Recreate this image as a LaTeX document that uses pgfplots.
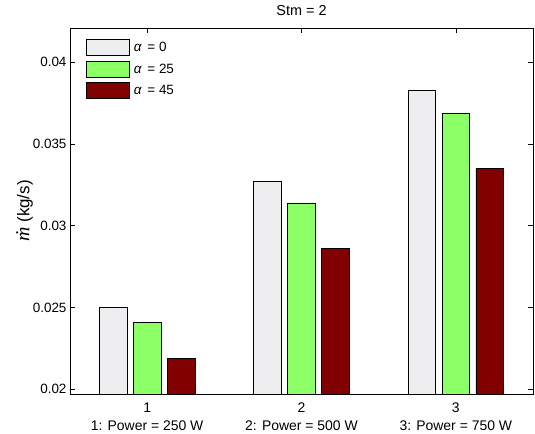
\documentclass[border=0pt]{standalone}
\usepackage{pgfplots}
\pgfplotsset{compat=1.18}
\usepackage{fontspec}
\setmainfont{Liberation Sans}
\newfontfamily\serifit{Liberation Serif}
\definecolor{barA}{RGB}{238,238,240}
\definecolor{barB}{RGB}{140,255,102}
\definecolor{barC}{RGB}{128,0,0}
\begin{document}
\begin{tikzpicture}
\begin{axis}[name=ax, at={(0,0)}, anchor=south west,
  scale only axis, width=463bp, height=366bp,
  xmin=0.5, xmax=3.5, ymin=0.0197, ymax=0.0421,
  scaled y ticks=false,
  xtick={1,2,3},
  xticklabels={{1\\1: Power = 250 W},{2\\2: Power = 500 W},{3\\3: Power = 750 W}},
  xticklabel style={align=center, font=\fontsize{14}{18}\selectfont, yshift=-5bp},
  ytick={0.02,0.025,0.03,0.035,0.04},
  yticklabels={0.02,0.025,0.03,0.035,0.04},
  yticklabel style={font=\fontsize{13.5}{15}\selectfont},
  /pgf/number format/assume math mode=true,
  tick align=inside, tick pos=both, xticklabel pos=left, yticklabel pos=left,
  major tick length=5bp, tick style={black, line width=0.6bp},
  axis line style={black, line width=0.6bp},
  title={\fontsize{14.5}{16}\selectfont Stm = 2}, title style={yshift=3bp},
  ylabel={\fontsize{17}{19}\selectfont {\serifit\itshape\fontsize{20}{22}\selectfont ṁ} (kg/s)}, ylabel style={yshift=-7bp},
  legend style={at={(0,1)}, anchor=north west, xshift=13bp, yshift=-9bp, draw=none, fill=none,
    font=\fontsize{13.5}{15}\selectfont, row sep=5bp, column sep=2bp},
  legend cell align=left,
  legend image code/.code={\draw[#1, line width=0.6bp] (0bp,-8bp) rectangle (43bp,8bp);},
]
\addplot[ybar, bar width=0.18, bar shift=-0.22, fill=barA, draw=black, line width=0.6bp]
  coordinates {(1,0.0250)(2,0.0327)(3,0.0383)};
\addplot[ybar, bar width=0.18, bar shift=0, fill=barB, draw=black, line width=0.6bp]
  coordinates {(1,0.0241)(2,0.0314)(3,0.0369)};
\addplot[ybar, bar width=0.18, bar shift=0.22, fill=barC, draw=black, line width=0.6bp]
  coordinates {(1,0.0219)(2,0.0286)(3,0.0335)};
\legend{{\itshape α\upshape{} \,= 0},{\itshape α\upshape{} \,= 25},{\itshape α\upshape{} \,= 45}}
\end{axis}
\pgfresetboundingbox
\path[use as bounding box] ([xshift=-70bp,yshift=-40bp]ax.south west) rectangle ([xshift=2bp,yshift=28bp]ax.north east);
\end{tikzpicture}
\end{document}
